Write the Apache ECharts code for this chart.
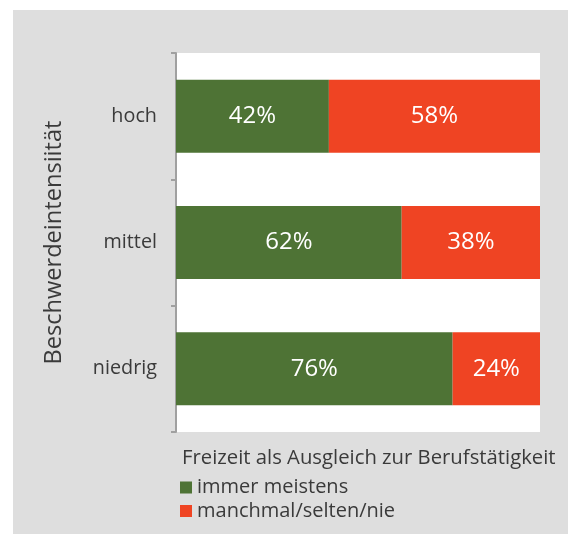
<!DOCTYPE html>
<html>
<head>
<meta charset="utf-8">
<script src="https://cdn.jsdelivr.net/npm/echarts@6/dist/echarts.min.js"></script>
<style>
    html, body { margin: 0; padding: 0; background: #ffffff; }
    #chart { position: absolute; left: 13px; top: 10px; width: 555px; height: 524px; }
</style>
</head>
<body>
<div id="chart"></div>
<script>
// Beschwerdeintensität -> Anteil in %
var categories = ['hoch', 'mittel', 'niedrig'];
var immerMeistens = [42, 62, 76];
var manchmalSelten = [58, 38, 24];
var seriesNames = ['immer meistens', 'manchmal/selten/nie'];
var legendTitle = 'Freizeit als Ausgleich zur Berufstätigkeit';
var axisName = 'Beschwerdeintensiität';

var FONT = '"Open Sans", sans-serif';
var textDark = '#3a3a3a';

var myChart = echarts.init(document.getElementById('chart'));

var barBase = {
    type: 'bar',
    stack: 'total',
    barWidth: 73,
    label: {
        show: true,
        position: 'inside',
        color: '#ffffff',
        fontFamily: FONT,
        fontSize: 24,
        formatter: '{c}%'
    }
};

var option = {
    backgroundColor: '#dedede',
    animation: false,
    color: ['#4e7335', '#ef4423'],
    grid: {
        left: 163,
        right: 28,
        top: 43,
        bottom: 102,
        show: true,
        backgroundColor: '#ffffff',
        borderWidth: 0
    },
    legend: {
        orient: 'vertical',
        left: 167,
        top: 467.5,
        padding: 0,
        itemWidth: 12,
        itemHeight: 12,
        itemGap: 3.5,
        icon: 'rect',
        textStyle: {
            color: textDark,
            fontFamily: FONT,
            fontSize: 20,
            lineHeight: 20
        },
        data: seriesNames
    },
    graphic: [{
        type: 'text',
        x: 169,
        y: 448.5,
        style: {
            text: legendTitle,
            fill: textDark,
            font: '20.3px ' + FONT,
            verticalAlign: 'middle'
        }
    }],
    xAxis: {
        type: 'value',
        min: 0,
        max: 100,
        show: false
    },
    yAxis: {
        type: 'category',
        inverse: true,
        data: categories,
        name: axisName,
        nameLocation: 'middle',
        nameGap: 110,
        nameTextStyle: {
            color: textDark,
            fontFamily: FONT,
            fontSize: 23.6
        },
        axisLine: {lineStyle: {color: '#a0a0a0', width: 2}},
        axisTick: {show: true, length: 5, lineStyle: {color: '#a0a0a0', width: 2}},
        axisLabel: {
            margin: 19,
            color: textDark,
            fontFamily: FONT,
            fontSize: 19.8
        },
        splitLine: {show: false}
    },
    series: [
        Object.assign({}, barBase, {name: seriesNames[0], data: immerMeistens}),
        Object.assign({}, barBase, {name: seriesNames[1], data: manchmalSelten})
    ]
};

myChart.setOption(option);
</script>
</body>
</html>
